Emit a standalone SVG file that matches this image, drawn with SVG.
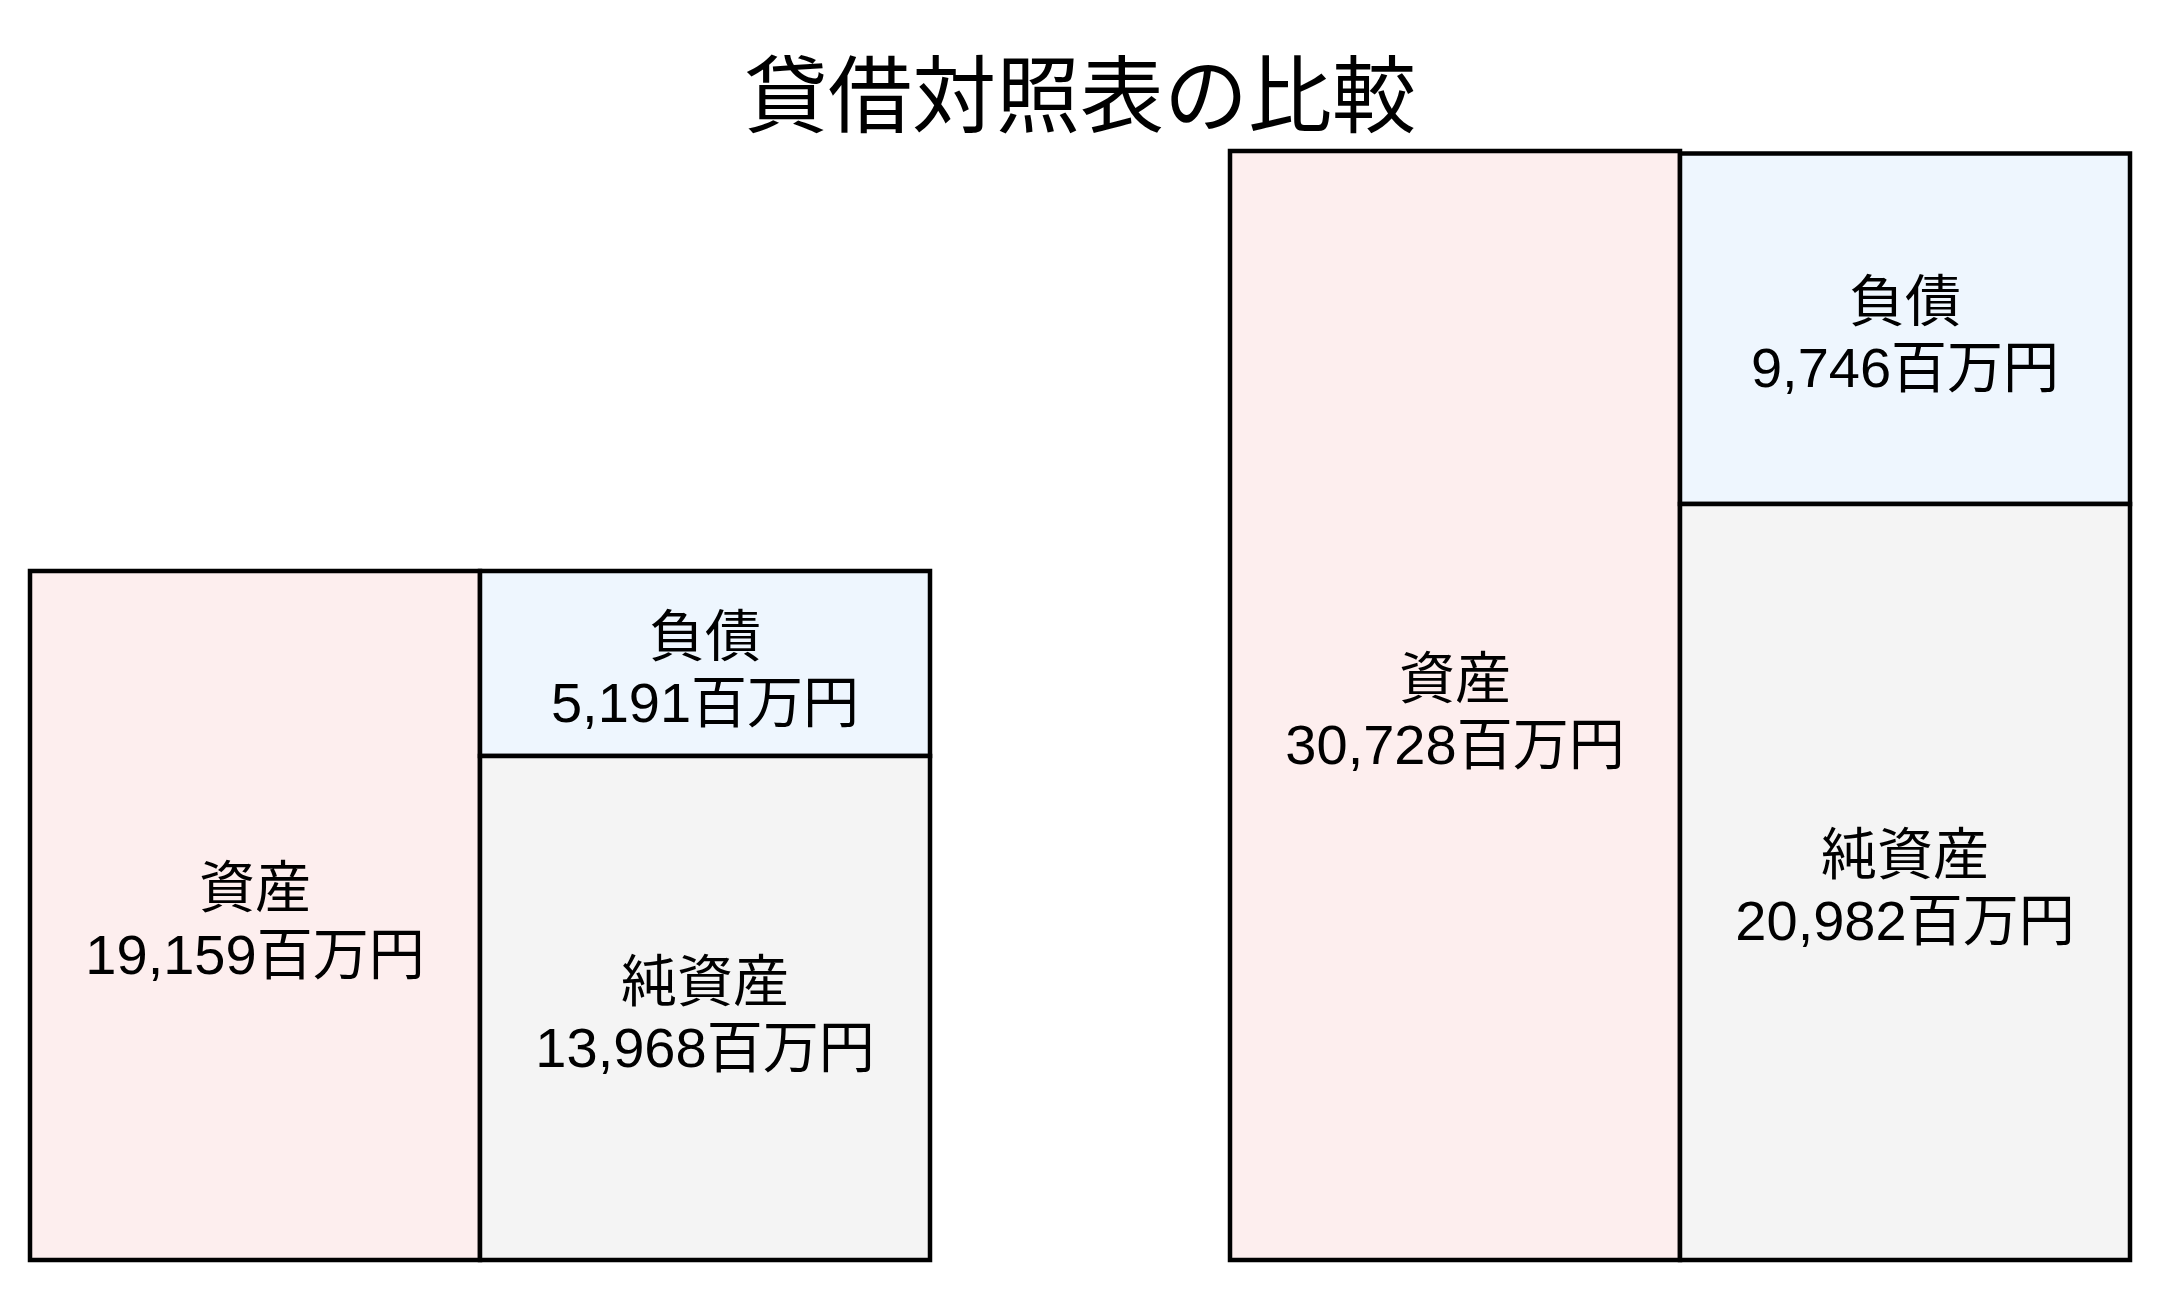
<svg xmlns="http://www.w3.org/2000/svg" width="2160" height="1291" viewBox="0 0 2160 1291">
  <style>
    .box { stroke: #000; stroke-width: 4.5; }
    .asset { fill: #fdeeee; }
    .liab { fill: #eef6fe; }
    .net { fill: #f4f4f4; }
    .lbl { font-family: "Liberation Sans", "Noto Sans CJK JP", sans-serif; font-size: 56px; fill: #000; text-anchor: middle; }
    .title { font-family: "Noto Sans CJK JP", sans-serif; font-size: 84px; fill: #000; text-anchor: middle; }
  </style>
  <rect width="2160" height="1291" fill="#fff"/>
  <text id="title" class="title" x="1080" y="126">貸借対照表の比較</text>

  <g id="left-asset">
    <rect class="box asset" x="30" y="571" width="450" height="689"/>
    <text class="lbl" x="255" y="907">資産</text>
    <text class="lbl" x="255" y="974">19,159百万円</text>
  </g>
  <g id="left-liab">
    <rect class="box liab" x="480" y="571" width="450" height="185"/>
    <text class="lbl" x="705" y="656">負債</text>
    <text class="lbl" x="705" y="722">5,191百万円</text>
  </g>
  <g id="left-net">
    <rect class="box net" x="480" y="756" width="450" height="504"/>
    <text class="lbl" x="705" y="1001">純資産</text>
    <text class="lbl" x="705" y="1067">13,968百万円</text>
  </g>

  <g id="right-asset">
    <rect class="box asset" x="1230" y="151" width="450" height="1109"/>
    <text class="lbl" x="1455" y="698">資産</text>
    <text class="lbl" x="1455" y="764">30,728百万円</text>
  </g>
  <g id="right-liab">
    <rect class="box liab" x="1680" y="153.5" width="450" height="350.5"/>
    <text class="lbl" x="1905" y="321">負債</text>
    <text class="lbl" x="1905" y="387">9,746百万円</text>
  </g>
  <g id="right-net">
    <rect class="box net" x="1680" y="504" width="450" height="756"/>
    <text class="lbl" x="1905" y="874">純資産</text>
    <text class="lbl" x="1905" y="940">20,982百万円</text>
  </g>
  <g id="connectors"/>
</svg>
